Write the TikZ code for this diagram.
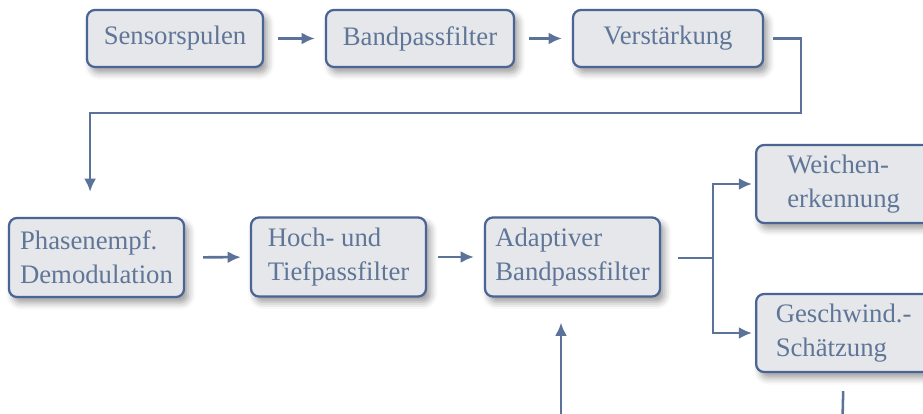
\documentclass[tikz,border=0pt]{standalone}
\usepackage{fontspec}
\setmainfont{Liberation Serif}
\usetikzlibrary{arrows.meta,shadows.blur}

\definecolor{boxline}{RGB}{74,100,148}
\definecolor{boxfill}{RGB}{230,231,234}
\definecolor{boxtext}{RGB}{95,118,152}
\definecolor{flow}{RGB}{91,115,153}

\begin{document}
\begin{tikzpicture}[
  x=0.025cm,y=0.025cm,
  font=\fontsize{19}{24.5}\selectfont,
  block/.style={draw=boxline,fill=boxfill,text=boxtext,line width=1.6pt,
                rounded corners=0.2cm,align=left,inner sep=4pt,
                blur shadow={shadow xshift=3pt,shadow yshift=-4pt,
                             shadow blur radius=5pt,shadow opacity=40}},
  toprow/.style={block,minimum height=1.425cm},
  midrow/.style={block,minimum width=4.375cm,minimum height=1.975cm},
  arr/.style={-{Latex[length=0.33cm,width=0.3cm]},draw=flow,line width=1.8pt,
              shorten <=0.35cm,shorten >=0.25cm},
  wire/.style={draw=flow,line width=1.8pt}
]
\useasboundingbox (0,0) rectangle (923,414);
\clip (0,0) rectangle (923,414);

% signal chain, first row
\node[toprow,minimum width=4.40cm] (sens) at (175,375.5) {Sensorspulen};
\node[toprow,minimum width=4.70cm] (band) at (420,375.5) {Bandpassfilter};
\node[toprow,minimum width=4.75cm] (verst) at (668,375.5) {Verstärkung};

% second row
\node[midrow] (phase) at (96.5,156.5) {Phasenempf.\\Demodulation};
\node[midrow] (hoch) at (338.5,157) {Hoch- und\\Tiefpassfilter};
\node[midrow] (adapt) at (572.5,157) {Adaptiver\\Bandpassfilter};
\node[midrow,minimum height=1.95cm,anchor=west] (weich) at (755,230)
  {Weichen-\\erkennung};
\node[midrow,minimum height=1.95cm,anchor=west] (gesch) at (755,81)
  {Geschwind.-\\Schätzung};

\coordinate (bend) at (801,301);
\coordinate (split) at (713,156);
\coordinate (fbin) at (561,-6);
\coordinate (fbout) at (842.5,-6);

\draw[arr] (sens) -- (band);
\draw[arr] (band) -- (verst);
\draw[arr,shorten <=0.225cm,shorten >=0.625cm] (verst.east) -| (bend)
  -| ([xshift=-0.16cm]phase.north);
\draw[arr,shorten <=0.45cm,shorten >=0.225cm] (phase) -- (hoch);
\draw[arr,shorten <=0.275cm] (hoch) -- (adapt);

% branch to both outputs
\draw[wire,shorten <=0.425cm] (adapt.east |- split) -- (split);
\draw[arr,shorten <=0pt,shorten >=0.075cm] (split) |- (weich.west);
\draw[arr,shorten <=0pt,shorten >=0.075cm] (split) |- (gesch.west);

% lines leaving the visible part
\draw[arr,shorten <=0pt,shorten >=0.625cm] (fbin) -- (fbin |- adapt.south);
\draw[wire,shorten <=0.45cm] (gesch.south) -- (fbout);
\end{tikzpicture}
\end{document}
